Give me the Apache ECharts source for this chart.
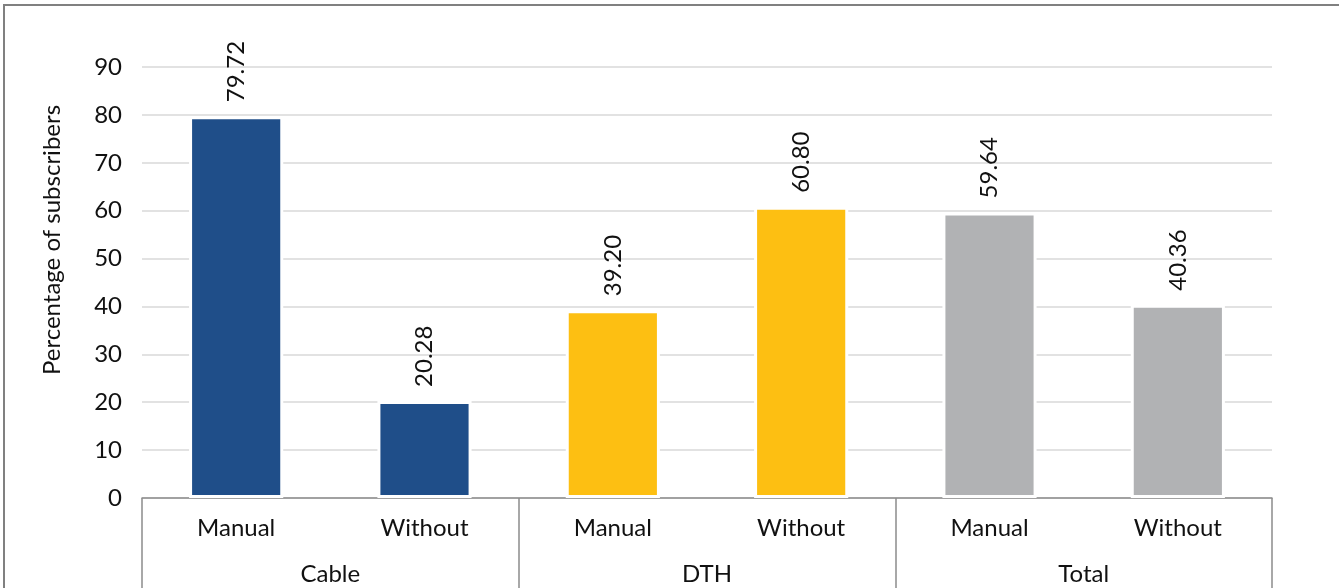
<!DOCTYPE html>
<html>
<head>
<meta charset="utf-8">
<script src="https://cdn.jsdelivr.net/npm/echarts@6/dist/echarts.min.js"></script>
<style>
  html, body { margin: 0; padding: 0; background: #fff; }
  #frame { position: absolute; left: 3px; top: 4px; width: 1336px; height: 584px;
           border-left: 2px solid #808080; border-top: 2px solid #808080; box-sizing: border-box; }
  #chart { position: absolute; left: 0; top: 0; width: 1339px; height: 588px; }
</style>
</head>
<body>
<div id="frame"></div>
<div id="chart"></div>
<script>
// Subscriber split by channel and method
const groups = ['Cable', 'DTH', 'Total'];
const methods = ['Manual', 'Without', 'Manual', 'Without', 'Manual', 'Without'];
const values = [79.72, 20.28, 39.20, 60.80, 59.64, 40.36];
const groupColors = ['#1F4E89', '#FDBF12', '#B1B2B4'];
const yTicks = [0, 10, 20, 30, 40, 50, 60, 70, 80, 90];

const FONT = 'Lato, "Open Sans", sans-serif';
const FS = 24;
const chart = echarts.init(document.getElementById('chart'));

chart.setOption({
  animation: false,
  grid: { left: 142, right: 67, top: 67, bottom: 90 },
  xAxis: [
    {
      type: 'category',
      data: methods,
      position: 'bottom',
      axisLine: { show: true, lineStyle: { color: '#8C8C8C', width: 1.5 } },
      axisTick: { show: false },
      axisLabel: { interval: 0, margin: 18, fontSize: FS, color: '#111', fontFamily: FONT }
    },
    {
      type: 'category',
      data: groups,
      position: 'bottom',
      axisLine: { show: false },
      axisTick: { show: true, interval: 0, length: 92, lineStyle: { color: '#8C8C8C', width: 1.5 } },
      axisLabel: { interval: 0, margin: 64, fontSize: FS, color: '#111', fontFamily: FONT }
    }
  ],
  yAxis: {
    type: 'value',
    min: yTicks[0],
    max: yTicks[yTicks.length - 1],
    interval: 10,
    name: 'Percentage of subscribers',
    nameLocation: 'middle',
    nameRotate: 90,
    nameGap: 78,
    nameTextStyle: { fontSize: FS, color: '#111', fontFamily: FONT, padding: [0, 0, 0, 85] },
    axisLine: { show: false },
    axisTick: { show: false },
    axisLabel: { margin: 20, fontSize: FS, color: '#111', fontFamily: FONT },
    splitLine: { lineStyle: { color: '#D9D9D9', width: 1.5 } }
  },
  series: [{
    type: 'bar',
    xAxisIndex: 0,
    barWidth: '50%',
    data: values.map((v, i) => ({
      value: v,
      itemStyle: { color: groupColors[Math.floor(i / 2)], borderColor: '#fff', borderWidth: 3 }
    })),
    label: {
      show: true,
      position: 'top',
      rotate: 90,
      align: 'left',
      verticalAlign: 'middle',
      distance: 14,
      fontSize: FS,
      color: '#111',
      fontFamily: FONT,
      formatter: p => p.value.toFixed(2)
    }
  }]
});
</script>
</body>
</html>
